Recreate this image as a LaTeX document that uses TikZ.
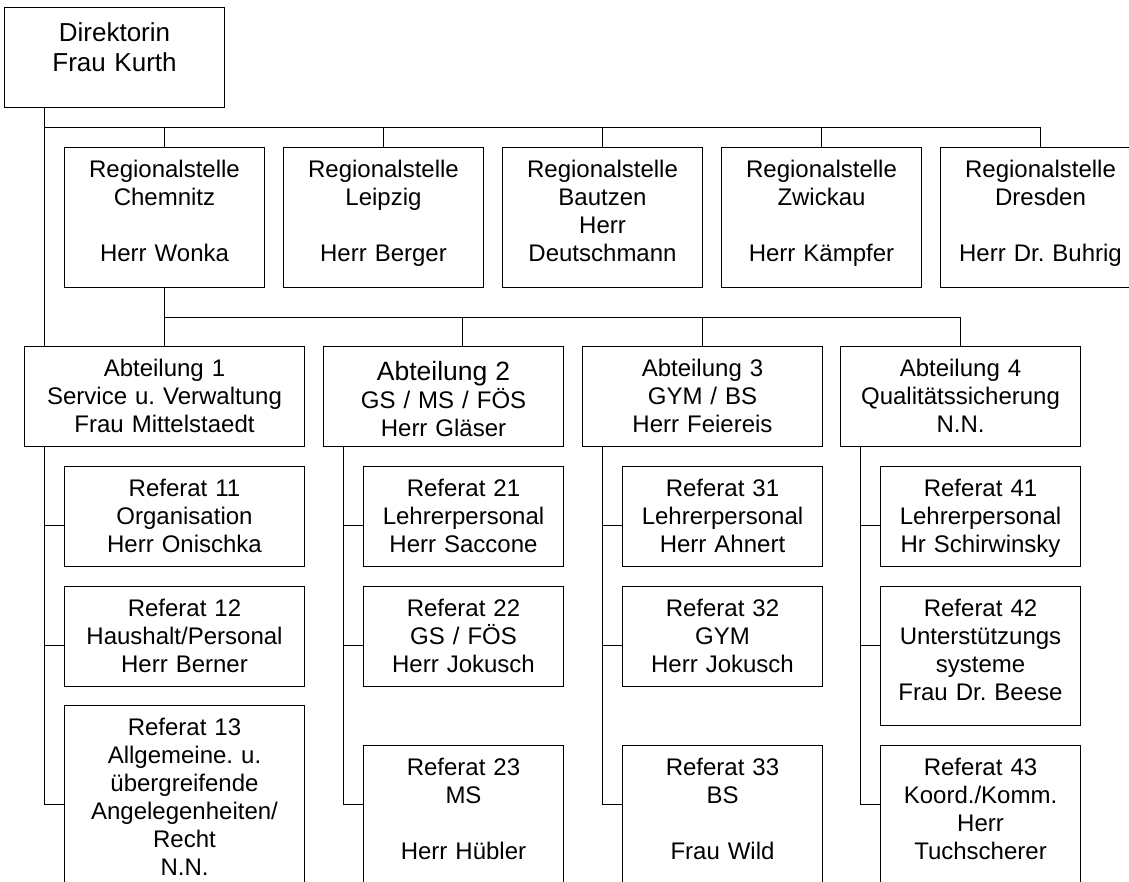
\documentclass[tikz,border=0pt]{standalone}
\usepackage{fontspec}
\setmainfont{Liberation Sans}
\frenchspacing
\usetikzlibrary{calc}

\begin{document}
\begin{tikzpicture}[x=1pt,y=-1pt,line width=1pt,
	unit/.style={draw,anchor=north west,inner sep=0pt,align=center,
		font=\fontsize{24}{28}\selectfont,text height=30pt},
	regio/.style={unit,text width=200pt,text depth=110pt},
	abt/.style={unit,text width=240pt,text depth=70pt},
	ref/.style={unit,text width=200pt,text depth=70pt},
	]
	\useasboundingbox (0,0) rectangle (1129,882);
	\clip (0,0) rectangle (1129,882);
	
	\node [unit,text width=220pt,font=\fontsize{26}{30}\selectfont,text height=34.5pt,text depth=65.5pt] (dir) at (4,7) {Direktorin\\Frau Kurth};
	
	% Regionalstellen
	\node [regio] (ch) at (64,147) {Regionalstelle\\Chemnitz\\[\baselineskip]Herr Wonka};
	\node [regio] (le) at (283,147) {Regionalstelle\\Leipzig\\[\baselineskip]Herr Berger};
	\node [regio] (ba) at (502,147) {Regionalstelle\\Bautzen\\Herr\\Deutschmann};
	\node [regio] (zw) at (721,147) {Regionalstelle\\Zwickau\\[\baselineskip]Herr Kämpfer};
	\node [regio] (dd) at (940,147) {Regionalstelle\\Dresden\\[\baselineskip]Herr Dr. Buhrig};
	
	% Abteilungen
	\node [abt,text width=280pt] (abt1) at (24,346) {Abteilung 1\\Service u. Verwaltung\\Frau Mittelstaedt};
	\node [abt,text height=34pt,text depth=66pt] (abt2) at (323,346) {{\fontsize{26.5}{28}\selectfont Abteilung 2}\\GS / MS / FÖS\\Herr Gläser};
	\node [abt] (abt3) at (582,346) {Abteilung 3\\GYM / BS\\Herr Feiereis};
	\node [abt] (abt4) at (840,346) {Abteilung 4\\Qualitätssicherung\\N.N.};
	
	% Referate
	\node [ref,text width=240pt] (ref11) at (64,466) {Referat 11\\Organisation\\Herr Onischka};
	\node [ref,text width=240pt] (ref12) at (64,586) {Referat 12\\Haushalt/Personal\\Herr Berner};
	\node [ref,text width=240pt,text depth=170pt] (ref13) at (64,705) {Referat 13\\Allgemeine. u.\\übergreifende\\Angelegenheiten/\\Recht\\N.N.};
	
	\node [ref] (ref21) at (363,466) {Referat 21\\Lehrerpersonal\\Herr Saccone};
	\node [ref] (ref22) at (363,586) {Referat 22\\GS / FÖS\\Herr Jokusch};
	\node [ref,text depth=130pt] (ref23) at (363,745) {Referat 23\\MS\\[\baselineskip]Herr Hübler};
	
	\node [ref] (ref31) at (622,466) {Referat 31\\Lehrerpersonal\\Herr Ahnert};
	\node [ref] (ref32) at (622,586) {Referat 32\\GYM\\Herr Jokusch};
	\node [ref,text depth=130pt] (ref33) at (622,745) {Referat 33\\BS\\[\baselineskip]Frau Wild};
	
	\node [ref] (ref41) at (880,466) {Referat 41\\Lehrerpersonal\\Hr Schirwinsky};
	\node [ref,text depth=109pt] (ref42) at (880,586) {Referat 42\\Unterstützungs\\systeme\\Frau Dr. Beese};
	\node [ref,text depth=130pt] (ref43) at (880,745) {Referat 43\\Koord./Komm.\\Herr\\Tuchscherer};
	
	% Direktorin -- Regionalstellen
	\coordinate (trk0) at ($(dir.south west)+(40,0)$);
	\coordinate (bus1) at ($(trk0)+(0,20)$);
	\draw (trk0) -- (trk0 |- abt1.north);
	\draw (bus1) -| (dd.north);
	\foreach \r in {ch,le,ba,zw}
		\draw (\r.north) -- (\r.north |- bus1);
	
	% Chemnitz -- Abteilungen
	\coordinate (bus2) at ($(ch.south)+(0,30)$);
	\draw (ch.south) -- (abt1.north);
	\draw (bus2) -| (abt4.north);
	\coordinate (top2) at ($(abt2.north)+(19,0)$);
	\draw (top2) -- (top2 |- bus2);
	\draw (abt3.north) -- (abt3.north |- bus2);
	
	% Abteilungen -- Referate
	\coordinate (br3) at ($(ref23.north west)+(0,59)$);
	\foreach \a in {1,...,4}{
		\coordinate (trk\a) at ($(abt\a.south west)+(20,0)$);
		\draw (trk\a) |- ($(ref\a1.north west)+(0,59)$);
		\draw (trk\a) |- ($(ref\a2.north west)+(0,59)$);
		\draw (trk\a) |- (ref\a3.west |- br3);
	}
\end{tikzpicture}
\end{document}
